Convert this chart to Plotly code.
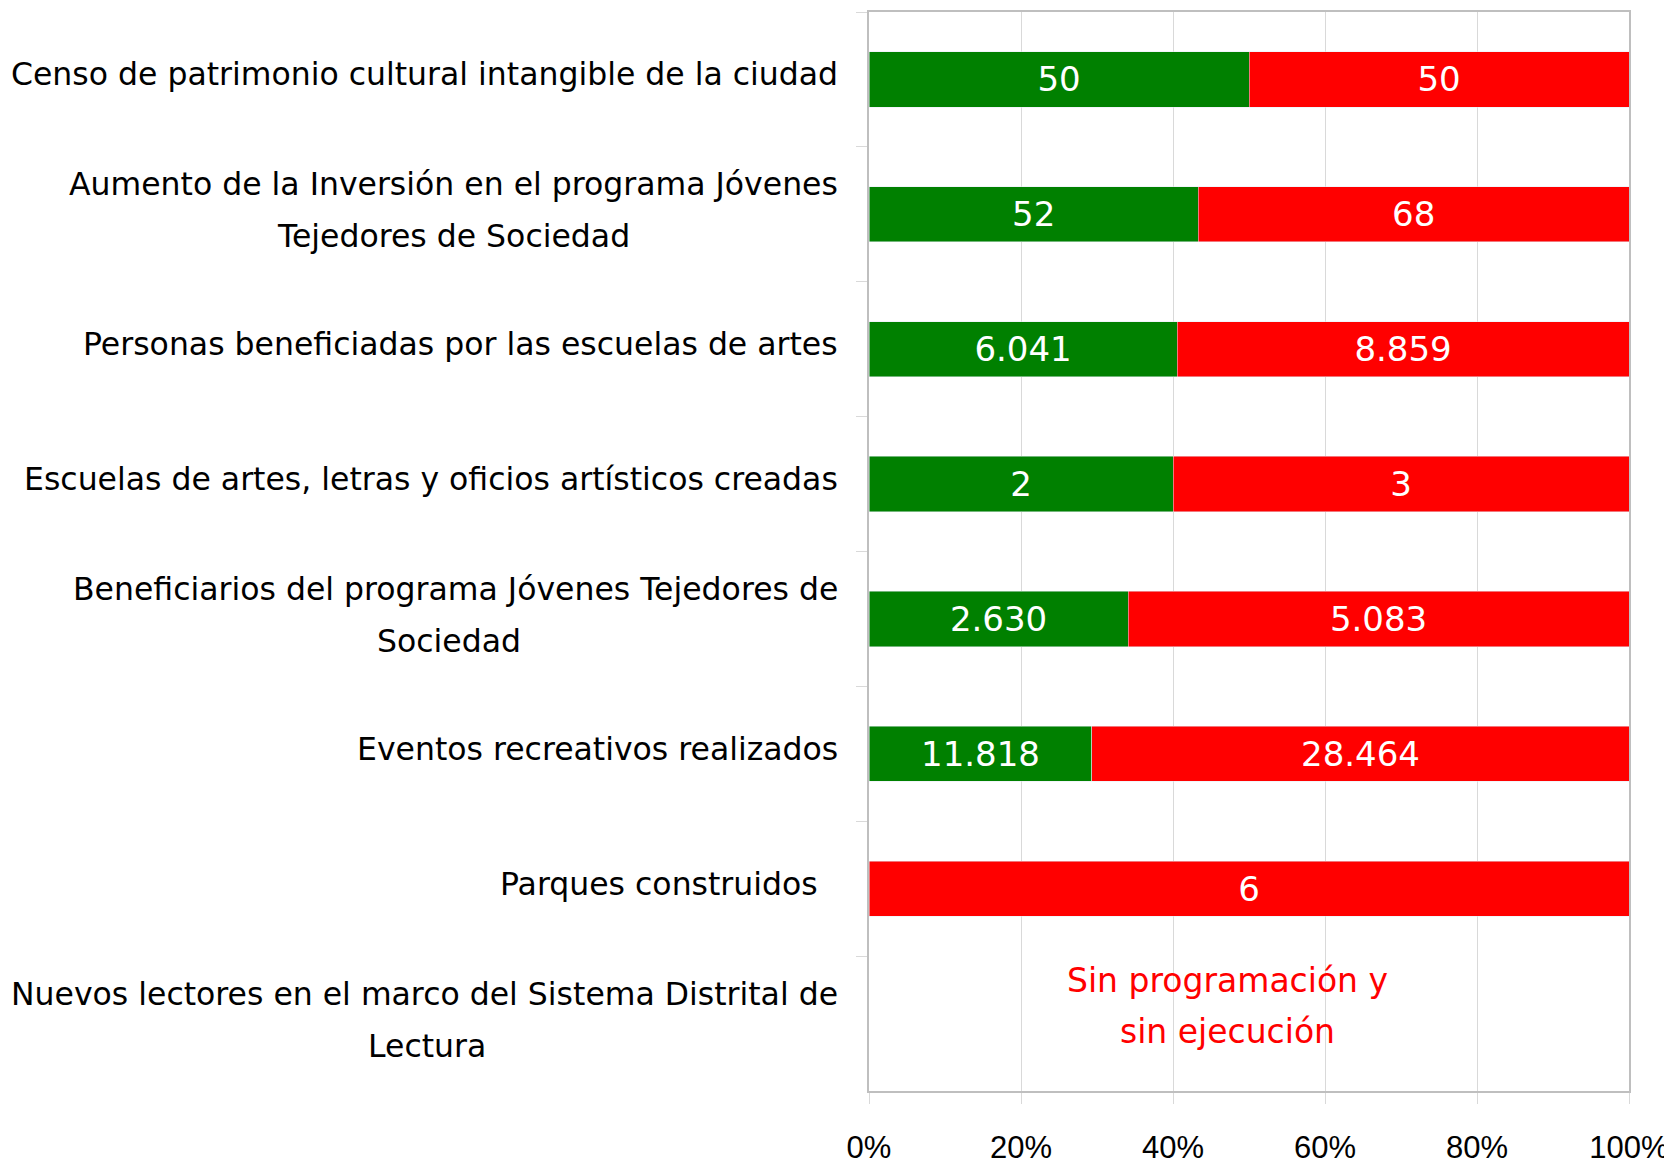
import plotly.graph_objects as go

categories = [
    "Censo de patrimonio cultural intangible de la ciudad",
    "Aumento de la Inversión en el programa Jóvenes Tejedores de Sociedad",
    "Personas beneficiadas por las escuelas de artes",
    "Escuelas de artes, letras y oficios artísticos creadas",
    "Beneficiarios del programa Jóvenes Tejedores de Sociedad",
    "Eventos recreativos realizados",
    "Parques construidos",
    "Nuevos lectores en el marco del Sistema Distrital de Lectura",
]
# label lines as drawn in the reference
label_lines = [
    ["Censo de patrimonio cultural intangible de la ciudad"],
    ["Aumento de la Inversión en el programa Jóvenes", "Tejedores de Sociedad"],
    ["Personas beneficiadas por las escuelas de artes"],
    ["Escuelas de artes, letras y oficios artísticos creadas"],
    ["Beneficiarios del programa Jóvenes Tejedores de", "Sociedad"],
    ["Eventos recreativos realizados"],
    ["Parques construidos\u00a0\u00a0"],
    ["Nuevos lectores en el marco del Sistema Distrital de", "Lectura"],
]
ejecutado = [50, 52, 6041, 2, 2630, 11818, 0, 0]
sin_ejecutar = [50, 68, 8859, 3, 5083, 28464, 6, 0]
x_ticks = [0, 20, 40, 60, 80, 100]
x_ticktext = ["0%", "20%", "40%", "60%", "80%", "100%"]
nota = ["Sin programación y", "sin ejecución"]


def fmt(v):
    return "" if v == 0 else f"{v:,}".replace(",", ".")


GREEN = "#008000"
RED = "#FF0000"
LBL_FONT = "DejaVu Sans"
CAT_SIZE = 31.5

fig = go.Figure()
fig.add_trace(go.Bar(
    y=categories, x=ejecutado, orientation="h", marker_color=GREEN,
    text=[fmt(v) for v in ejecutado], textposition="inside", insidetextanchor="middle",
    textfont=dict(family=LBL_FONT, size=34, color="white"), width=0.41,
    name="Ejecutado", hoverinfo="skip",
))
fig.add_trace(go.Bar(
    y=categories, x=sin_ejecutar, orientation="h", marker_color=RED,
    text=[fmt(v) for v in sin_ejecutar], textposition="inside", insidetextanchor="middle",
    textfont=dict(family=LBL_FONT, size=34, color="white"), width=0.41,
    name="Sin ejecutar", hoverinfo="skip",
))

annotations = []
# second-line center offsets (px from plot left edge)
center_shift = {1: -416, 4: -420, 7: -442}
for i, lines in enumerate(label_lines):
    if len(lines) == 1:
        annotations.append(dict(
            x=0, xref="paper", y=categories[i], yref="y", text=lines[0],
            xanchor="right", yanchor="middle", xshift=-29, yshift=5, showarrow=False,
            font=dict(family=LBL_FONT, size=CAT_SIZE, color="black"),
        ))
    else:
        annotations.append(dict(
            x=0, xref="paper", y=categories[i], yref="y", text=lines[0],
            xanchor="right", yanchor="middle", xshift=-29, yshift=30, showarrow=False,
            font=dict(family=LBL_FONT, size=CAT_SIZE, color="black"),
        ))
        annotations.append(dict(
            x=0, xref="paper", y=categories[i], yref="y", text=lines[1],
            xanchor="center", yanchor="middle", xshift=center_shift[i], yshift=-22, showarrow=False,
            font=dict(family=LBL_FONT, size=CAT_SIZE, color="black"),
        ))

for k, line in enumerate(nota):
    annotations.append(dict(
        x=47.2, xref="x", y=categories[-1], yref="y", text=line,
        xanchor="center", yanchor="middle", yshift=43 - 51 * k, showarrow=False,
        font=dict(family=LBL_FONT, size=33, color=RED),
    ))

fig.update_layout(
    width=1664, height=1157,
    margin=dict(l=861, r=43, t=4, b=74, autoexpand=False),
    barmode="stack", barnorm="percent",
    plot_bgcolor="white", paper_bgcolor="white",
    showlegend=False,
    annotations=annotations,
)
fig.update_xaxes(
    range=[0, 100], tickvals=x_ticks, ticktext=x_ticktext, automargin=False,
    showgrid=True, gridcolor="#D9D9D9", gridwidth=1,
    showline=True, linecolor="#BFBFBF", linewidth=2, mirror=True,
    ticks="outside", ticklen=11, tickcolor="#D9D9D9", tickwidth=1,
    tickfont=dict(family="Liberation Sans Narrow, Liberation Sans", size=31, color="black"),
    ticklabelstandoff=17, zeroline=False, fixedrange=True,
)
fig.update_yaxes(
    categoryorder="array", categoryarray=categories, autorange="reversed", automargin=False,
    showticklabels=False, showgrid=False,
    showline=True, linecolor="#BFBFBF", linewidth=2, mirror=True,
    ticks="outside", tickson="boundaries", ticklen=11, tickcolor="#D9D9D9", tickwidth=1,
    fixedrange=True,
)

fig.write_html("out.html")
